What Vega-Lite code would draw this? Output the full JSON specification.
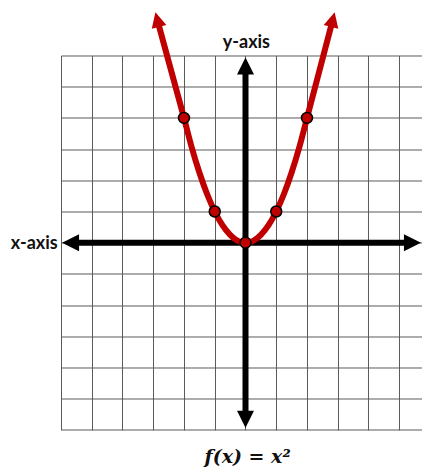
{
  "$schema": "https://vega.github.io/schema/vega-lite/v6.json",
  "autosize": "none",
  "width": 361,
  "height": 374.4,
  "padding": {"left": 61, "top": 55.5, "right": 0, "bottom": 38},
  "background": "white",
  "config": {"view": {"stroke": null}},
  "datasets": {
    "axesLines": [
      {"x": -5.6, "x2": 5.4, "y": 0, "y2": 0},
      {"x": 0, "x2": 0, "y": -5.6, "y2": 5.6}
    ],
    "axisHeads": [
      {"x": -5.69, "y": 0, "dir": "left"},
      {"x": 5.43, "y": 0, "dir": "right"},
      {"x": 0, "y": 5.66, "dir": "up"},
      {"x": 0, "y": -5.66, "dir": "down"}
    ],
    "curve": [
      {"x": -2.87, "y": 7.15},
      {"x": -2.0, "y": 4.0},
      {"x": -1.75, "y": 3.06},
      {"x": -1.5, "y": 2.25},
      {"x": -1.25, "y": 1.56},
      {"x": -1.0, "y": 1.0},
      {"x": -0.75, "y": 0.56},
      {"x": -0.5, "y": 0.25},
      {"x": -0.25, "y": 0.06},
      {"x": 0.0, "y": 0.0},
      {"x": 0.25, "y": 0.06},
      {"x": 0.5, "y": 0.25},
      {"x": 0.75, "y": 0.56},
      {"x": 1.0, "y": 1.0},
      {"x": 1.25, "y": 1.56},
      {"x": 1.5, "y": 2.25},
      {"x": 1.75, "y": 3.06},
      {"x": 2.0, "y": 4.0},
      {"x": 2.84, "y": 7.15}
    ],
    "curveHeads": [
      {"x": -2.87, "y": 7.15, "side": "left"},
      {"x": 2.84, "y": 7.15, "side": "right"}
    ],
    "points": [
      {"x": -2, "y": 4},
      {"x": -1, "y": 1},
      {"x": 0, "y": 0},
      {"x": 1, "y": 1},
      {"x": 2, "y": 4}
    ],
    "labels": [
      {"x": 0.03, "y": 6.25, "label": "y-axis", "kind": "axis"},
      {"x": -6.11, "y": -0.19, "label": "x-axis", "kind": "axisleft"},
      {"x": 0.07, "y": -7.05, "label": "f(x) = x²", "kind": "formula"}
    ]
  },
  "encoding": {
    "x": {
      "type": "quantitative",
      "scale": {"domain": [-6, 5.74], "nice": false, "zero": false},
      "axis": {
        "values": [-6, -5, -4, -3, -2, -1, 0, 1, 2, 3, 4, 5],
        "grid": true, "labels": false, "ticks": false, "domain": false, "title": null,
        "gridColor": "#5a5a5a", "gridOpacity": 1, "gridWidth": 1
      }
    },
    "y": {
      "type": "quantitative",
      "scale": {"domain": [-6, 6], "nice": false, "zero": false},
      "axis": {
        "values": [-6, -5, -4, -3, -2, -1, 0, 1, 2, 3, 4, 5, 6],
        "grid": true, "labels": false, "ticks": false, "domain": false, "title": null,
        "gridColor": "#5a5a5a", "gridOpacity": 1, "gridWidth": 1
      }
    }
  },
  "layer": [
    {
      "data": {"name": "axesLines"},
      "mark": {"type": "rule", "color": "black", "strokeWidth": 6},
      "encoding": {
        "x": {"field": "x", "type": "quantitative"},
        "x2": {"field": "x2"},
        "y": {"field": "y", "type": "quantitative"},
        "y2": {"field": "y2"}
      }
    },
    {
      "data": {"name": "axisHeads"},
      "mark": {"type": "point", "filled": true, "color": "black", "opacity": 1, "size": 289},
      "encoding": {
        "x": {"field": "x", "type": "quantitative"},
        "y": {"field": "y", "type": "quantitative"},
        "shape": {
          "field": "dir", "type": "nominal", "legend": null,
          "scale": {
            "domain": ["up", "down", "left", "right"],
            "range": ["M0,-1L-1,1L1,1Z", "M0,1L-1,-1L1,-1Z", "M-1,0L1,-1L1,1Z", "M1,0L-1,-1L-1,1Z"]
          }
        }
      }
    },
    {
      "data": {"name": "curve"},
      "mark": {"type": "line", "color": "#c00000", "strokeWidth": 6, "interpolate": "monotone", "clip": false},
      "encoding": {
        "x": {"field": "x", "type": "quantitative"},
        "y": {"field": "y", "type": "quantitative"}
      }
    },
    {
      "data": {"name": "curveHeads"},
      "transform": [{"filter": "datum.side === 'left'"}],
      "mark": {"type": "point", "filled": true, "color": "#c00000", "opacity": 1, "size": 225, "shape": "M0,-1L-1,1L1,1Z", "angle": -14},
      "encoding": {
        "x": {"field": "x", "type": "quantitative"},
        "y": {"field": "y", "type": "quantitative"}
      }
    },
    {
      "data": {"name": "curveHeads"},
      "transform": [{"filter": "datum.side === 'right'"}],
      "mark": {"type": "point", "filled": true, "color": "#c00000", "opacity": 1, "size": 225, "shape": "M0,-1L-1,1L1,1Z", "angle": 14},
      "encoding": {
        "x": {"field": "x", "type": "quantitative"},
        "y": {"field": "y", "type": "quantitative"}
      }
    },
    {
      "data": {"name": "points"},
      "mark": {"type": "point", "shape": "circle", "filled": true, "fill": "#c00000", "stroke": "black", "strokeWidth": 1.5, "opacity": 1, "size": 120},
      "encoding": {
        "x": {"field": "x", "type": "quantitative"},
        "y": {"field": "y", "type": "quantitative"}
      }
    },
    {
      "data": {"name": "labels"},
      "transform": [{"filter": "datum.kind === 'axis'"}],
      "mark": {"type": "text", "font": "Lato", "fontWeight": "bold", "fontSize": 18, "align": "center", "baseline": "alphabetic", "color": "#111111"},
      "encoding": {
        "x": {"field": "x", "type": "quantitative"},
        "y": {"field": "y", "type": "quantitative"},
        "text": {"field": "label"}
      }
    },
    {
      "data": {"name": "labels"},
      "transform": [{"filter": "datum.kind === 'axisleft'"}],
      "mark": {"type": "text", "font": "Lato", "fontWeight": "bold", "fontSize": 18, "align": "right", "baseline": "alphabetic", "color": "#111111"},
      "encoding": {
        "x": {"field": "x", "type": "quantitative"},
        "y": {"field": "y", "type": "quantitative"},
        "text": {"field": "label"}
      }
    },
    {
      "data": {"name": "labels"},
      "transform": [{"filter": "datum.kind === 'formula'"}],
      "mark": {"type": "text", "font": "DejaVu Serif", "fontWeight": "bold", "fontStyle": "italic", "fontSize": 19, "align": "center", "baseline": "alphabetic", "color": "#111111"},
      "encoding": {
        "x": {"field": "x", "type": "quantitative"},
        "y": {"field": "y", "type": "quantitative"},
        "text": {"field": "label"}
      }
    }
  ]
}
